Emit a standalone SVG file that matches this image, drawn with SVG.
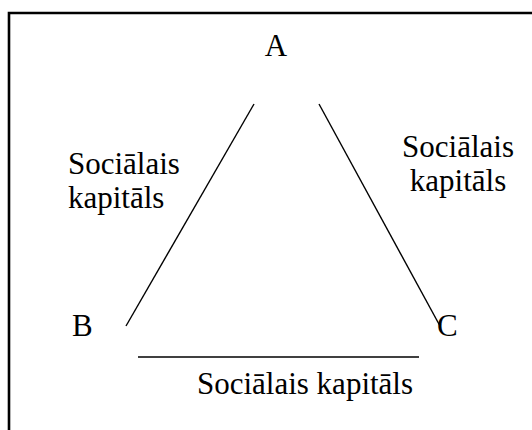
<svg xmlns="http://www.w3.org/2000/svg" width="532" height="430" viewBox="0 0 532 430">
<style>
.t{font-family:"Liberation Serif","Times New Roman",serif;font-size:31px;fill:#000}
.frame{stroke:#000;stroke-width:2.6;fill:none}
.e{stroke:#000;stroke-width:1.4;fill:none}
</style>
<rect width="532" height="430" fill="#fff"/>
<path class="frame" d="M9 430 V13 H532"/>
<g id="nodeA"><text class="t" x="276" y="56" text-anchor="middle">A</text></g>
<g id="nodeB"><text class="t" x="72" y="336">B</text></g>
<g id="nodeC"><text class="t" x="437" y="336">C</text></g>
<g id="connectors">
<line class="e" x1="254" y1="104" x2="126" y2="326"/>
<line class="e" x1="319" y1="104" x2="440" y2="326"/>
<line class="e" x1="138" y1="357" x2="419" y2="357"/>
</g>
<g id="labelAB"><text class="t" x="68" y="174">Sociālais</text><text class="t" x="68" y="208">kapitāls</text></g>
<g id="labelAC"><text class="t" x="458" y="157" text-anchor="middle">Sociālais</text><text class="t" x="458" y="191" text-anchor="middle">kapitāls</text></g>
<g id="labelBC"><text class="t" x="305" y="394" text-anchor="middle">Sociālais kapitāls</text></g>
</svg>
